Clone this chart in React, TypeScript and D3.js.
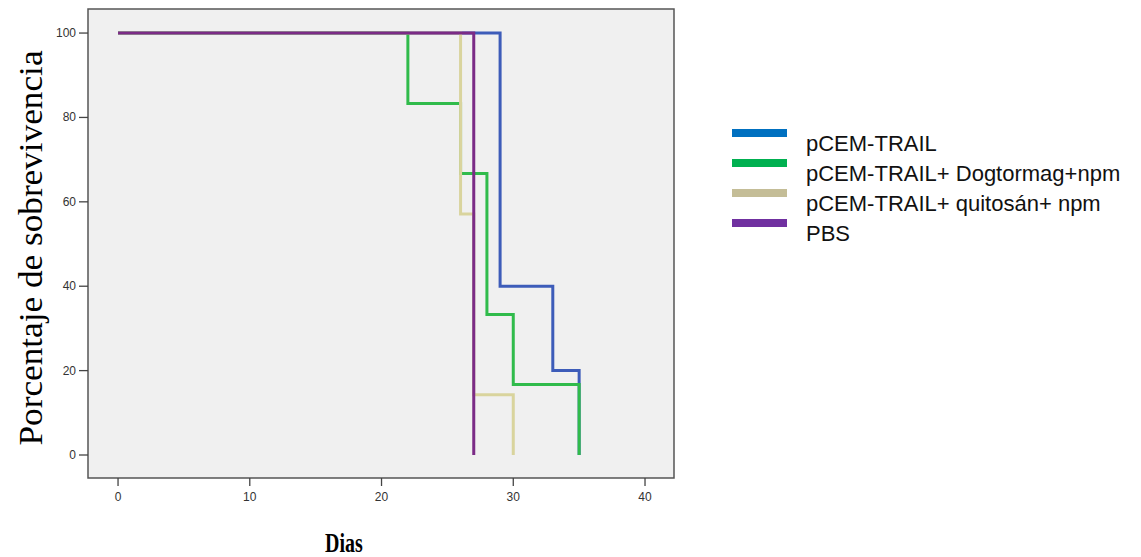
import React from "react";
import * as d3 from "d3";

const seriesNames = [
  "pCEM-TRAIL",
  "pCEM-TRAIL+ Dogtormag+npm",
  "pCEM-TRAIL+ quitosán+ npm",
  "PBS",
];
// step points: [day, survival %]
const blueSteps: [number, number][] = [[0, 100], [29, 100], [29, 40], [33, 40], [33, 20], [35, 20], [35, 0]];
const greenSteps: [number, number][] = [[0, 100], [22, 100], [22, 83.3], [26, 83.3], [26, 66.7], [28, 66.7], [28, 33.3], [30, 33.3], [30, 16.7], [35, 16.7], [35, 0]];
const tanSteps: [number, number][] = [[0, 100], [26, 100], [26, 57.1], [27, 57.1], [27, 14.3], [30, 14.3], [30, 0]];
const purpleSteps: [number, number][] = [[0, 100], [27, 100], [27, 0]];
const xTicks = [0, 10, 20, 30, 40];
const yTicks = [0, 20, 40, 60, 80, 100];

const lineColors = ["#3d5cb9", "#30bb4b", "#d9d49d", "#7b2b86"];
const legendColors = ["#0070c0", "#00b050", "#c4bd97", "#7030a0"];

export default function App() {
  const W = 1141, H = 557;
  const left = 88, right = 674, top = 9, bottom = 478;
  const x = d3.scaleLinear().domain([-2.28, 42.2]).range([left, right]);
  const y = d3.scaleLinear().domain([-5.45, 105.7]).range([bottom, top]);
  const line = d3.line<[number, number]>().x(d => x(d[0])).y(d => y(d[1]));
  const all = [blueSteps, greenSteps, tanSteps, purpleSteps];
  return (
    <svg width={W} height={H} style={{ position: "absolute", left: 0, top: 0, background: "#fff" }}>
      <rect x={left} y={top} width={right - left} height={bottom - top} fill="#f0f0f0" />
      {all.map((s, i) => (
        <path key={i} d={line(s) || ""} fill="none" stroke={lineColors[i]} strokeWidth={3} />
      ))}
      <rect x={left} y={top} width={right - left} height={bottom - top} fill="none" stroke="#555" strokeWidth={1.5} />
      {yTicks.map(t => (
        <g key={t}>
          <line x1={left - 9} x2={left} y1={y(t)} y2={y(t)} stroke="#444" strokeWidth={1.3} />
          <text x={left - 12} y={y(t) + 4} textAnchor="end" fontFamily="Liberation Sans, Arial" fontSize={12} fill="#333">{t}</text>
        </g>
      ))}
      {xTicks.map(t => (
        <g key={t}>
          <line x1={x(t)} x2={x(t)} y1={bottom} y2={bottom + 8} stroke="#444" strokeWidth={1.3} />
          <text x={x(t)} y={bottom + 23} textAnchor="middle" fontFamily="Liberation Sans, Arial" fontSize={12} fill="#333">{t}</text>
        </g>
      ))}
      <text transform={`translate(42,248) rotate(-90)`} textAnchor="middle" fontFamily="Liberation Serif, Times New Roman, serif" fontSize={34} textLength={395} lengthAdjust="spacingAndGlyphs" fill="#000">Porcentaje de sobrevivencia</text>
      <text transform={`translate(344,552) scale(0.74,1)`} textAnchor="middle" fontFamily="Liberation Serif, serif" fontWeight="bold" fontSize={27} fill="#000">Dias</text>
      {seriesNames.map((n, i) => (
        <g key={n}>
          <rect x={732} y={129 + i * 30} width={55} height={8} fill={legendColors[i]} />
          <text transform={`translate(806,${151 + i * 30})`} fontFamily="Liberation Sans, Arial" fontSize={22} fill="#111">{n}</text>
        </g>
      ))}
    </svg>
  );
}
